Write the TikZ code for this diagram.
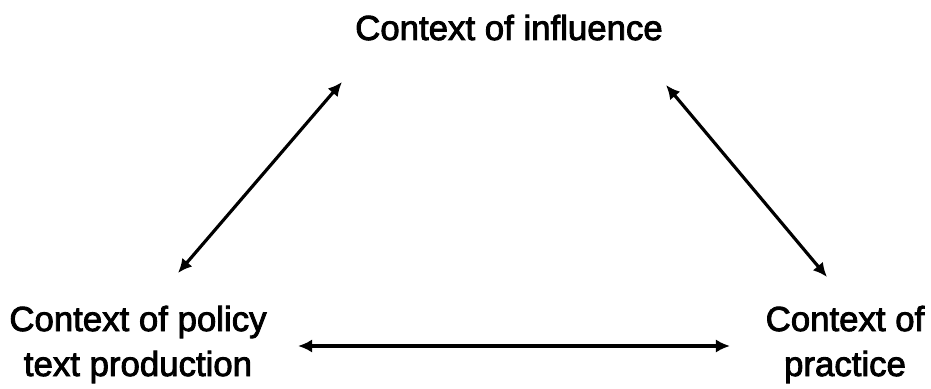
\documentclass[tikz,border=0pt]{standalone}
\usepackage{fontspec}
\setmainfont{Liberation Sans}
\newfontfamily\ctxfont{Liberation Sans}[FakeBold=2.5]
\usetikzlibrary{positioning, arrows.meta}

\tikzset{
  ctxlabel/.style={align=center, inner sep=0pt, font=\ctxfont\fontsize{19.8}{25.6}\selectfont},
  ctxarrow/.style={{Latex[length=8pt,width=7.5pt]}-{Latex[length=8pt,width=7.5pt]}, line width=1.8pt}
}

\begin{document}
\begin{tikzpicture}
    % cadre : 931 x 388 px a 0,02 cm
    \useasboundingbox[fill=white] (0,0) rectangle (18.62,7.76);

    % les trois contextes
    \node[ctxlabel, anchor=base] (influence) at (10.18,6.96) {Context of influence};
    \node[ctxlabel, anchor=base] (policy) at (2.76,0.24) {Context of policy\\text production};
    \node[ctxlabel, anchor=base] (practice) at (16.90,0.24) {Context of\\practice};

    % extremites des fleches
    \coordinate (infL) at (6.84,6.12);
    \coordinate (polT) at (3.56,2.30);
    \coordinate (infR) at (13.32,6.06);
    \coordinate (praT) at (16.54,2.22);
    \coordinate (polR) at (5.96,0.84);
    \coordinate (praL) at (14.60,0.84);

    \draw[ctxarrow] (polT) -- (infL);
    \draw[ctxarrow] (infR) -- (praT);
    \draw[ctxarrow] (polR) -- (praL);
\end{tikzpicture}
\end{document}
